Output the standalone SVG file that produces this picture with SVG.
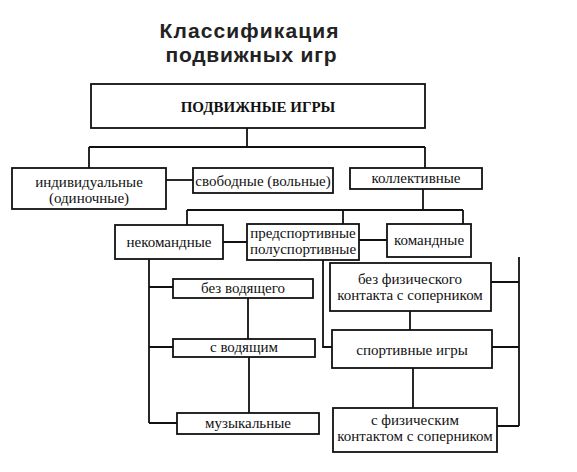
<svg xmlns="http://www.w3.org/2000/svg" width="577" height="472" viewBox="0 0 577 472">
<style>
.box{fill:#fff;stroke:#111;stroke-width:1.8}
.ln{fill:none;stroke:#111;stroke-width:1.8}
.t{font-family:"Liberation Serif","Times New Roman",serif;font-size:15px;fill:#111;text-anchor:middle}
.h{font-family:"Liberation Sans",Arial,sans-serif;font-size:21px;font-weight:bold;fill:#222;text-anchor:middle}
</style>
<rect width="577" height="472" fill="#fff"/>
<g id="title">
<text class="h" x="249" y="38" textLength="179" lengthAdjust="spacing">Классификация</text>
<text class="h" x="251" y="62" textLength="171" lengthAdjust="spacing">подвижных игр</text>
</g>
<g id="connectors">
<path class="ln" d="M247,128V147M89,147H425M89,147V168M425,147V168"/>
<path class="ln" d="M166,180H193"/>
<path class="ln" d="M423,189V210M187,210H463M187,210V225M343,210V224M463,210V224"/>
<path class="ln" d="M223,242H247M359,240H387"/>
<path class="ln" d="M149,259V423M149,287H173M149,347H173M149,423H177"/>
<path class="ln" d="M248,298V339M249,357V413"/>
<path class="ln" d="M323,260V347H332"/>
<path class="ln" d="M519,257V426M519,282H491M519,347H492M519,426H497"/>
<path class="ln" d="M410,311V330M413,368V408"/>
</g>
<g id="n-root"><rect class="box" x="91" y="84" width="334" height="44"/><text class="t" x="258" y="112" font-weight="bold">ПОДВИЖНЫЕ ИГРЫ</text></g>
<g id="n-individ"><rect class="box" x="12" y="168" width="154" height="41"/><text class="t" x="89" y="187">индивидуальные</text><text class="t" x="89" y="203">(одиночные)</text></g>
<g id="n-svobod"><rect class="box" x="193" y="168" width="140" height="25"/><text class="t" x="263" y="186">свободные (вольные)</text></g>
<g id="n-kollekt"><rect class="box" x="350" y="168" width="132" height="21"/><text class="t" x="416" y="183">коллективные</text></g>
<g id="n-nekom"><rect class="box" x="115" y="225" width="108" height="34"/><text class="t" x="169" y="247">некомандные</text></g>
<g id="n-predsport"><rect class="box" x="247" y="224" width="112" height="36"/><text class="t" x="303" y="238">предспортивные</text><text class="t" x="303" y="254">полуспортивные</text></g>
<g id="n-komand"><rect class="box" x="387" y="224" width="84" height="33"/><text class="t" x="429" y="245">командные</text></g>
<g id="n-bezvod"><rect class="box" x="173" y="279" width="140" height="19"/><text class="t" x="243" y="293">без водящего</text></g>
<g id="n-svod"><rect class="box" x="173" y="339" width="142" height="18"/><text class="t" x="244" y="352">с водящим</text></g>
<g id="n-muz"><rect class="box" x="177" y="413" width="142" height="21"/><text class="t" x="248" y="428">музыкальные</text></g>
<g id="n-bezfiz"><rect class="box" x="330" y="263" width="161" height="48"/><text class="t" x="410" y="284">без физического</text><text class="t" x="410" y="300">контакта с соперником</text></g>
<g id="n-sport"><rect class="box" x="332" y="330" width="160" height="38"/><text class="t" x="412" y="355">спортивные игры</text></g>
<g id="n-sfiz"><rect class="box" x="333" y="408" width="164" height="44"/><text class="t" x="415" y="425">с физическим</text><text class="t" x="415" y="441">контактом с соперником</text></g>
</svg>
